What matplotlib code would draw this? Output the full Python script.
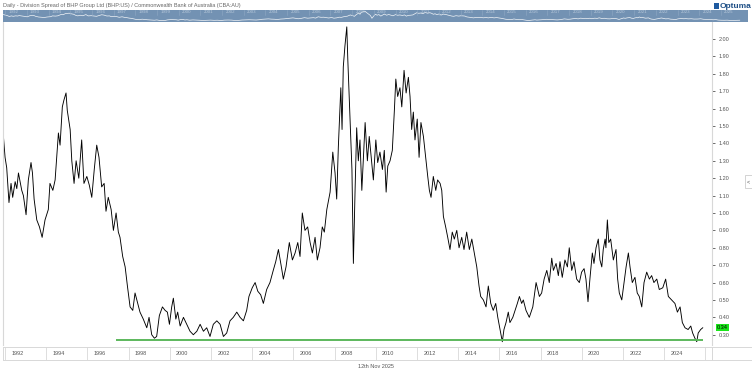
import matplotlib
matplotlib.use("Agg")
import matplotlib.pyplot as plt
from matplotlib.patches import Rectangle

plt.rcParams['font.family'] = ['Liberation Sans', 'DejaVu Sans']

# BHP:US / CBA:AU ratio (decimal year, ratio)
years = [
    1991.92, 1992.00, 1992.08, 1992.19, 1992.29, 1992.37, 1992.49, 1992.57, 1992.65, 1992.81,
    1992.89, 1993.02, 1993.13, 1993.26, 1993.33, 1993.41, 1993.54, 1993.67, 1993.80, 1993.94,
    1994.10, 1994.18, 1994.32, 1994.43, 1994.59, 1994.67, 1994.78, 1994.86, 1994.96, 1995.02,
    1995.16, 1995.24, 1995.35, 1995.45, 1995.58, 1995.72, 1995.83, 1995.97, 1996.09, 1996.21,
    1996.33, 1996.45, 1996.56, 1996.69, 1996.81, 1996.90, 1997.01, 1997.15, 1997.26, 1997.39,
    1997.50, 1997.58, 1997.71, 1997.83, 1997.94, 1998.07, 1998.20, 1998.31, 1998.42, 1998.55,
    1998.71, 1998.88, 1998.99, 1999.12, 1999.25, 1999.36, 1999.49, 1999.64, 1999.77, 1999.88,
    1999.98, 2000.09, 2000.17, 2000.29, 2000.38, 2000.50, 2000.66, 2000.82, 2000.98, 2001.14,
    2001.31, 2001.47, 2001.63, 2001.79, 2001.95, 2002.11, 2002.28, 2002.44, 2002.60, 2002.76,
    2002.92, 2003.08, 2003.25, 2003.41, 2003.57, 2003.73, 2003.84, 2004.00, 2004.14, 2004.27,
    2004.41, 2004.54, 2004.70, 2004.86, 2005.02, 2005.14, 2005.27, 2005.40, 2005.51, 2005.64,
    2005.80, 2005.95, 2006.08, 2006.21, 2006.32, 2006.43, 2006.56, 2006.69, 2006.81, 2006.92,
    2007.05, 2007.16, 2007.29, 2007.40, 2007.50, 2007.62, 2007.78, 2007.91, 2008.02, 2008.10,
    2008.18, 2008.30, 2008.36, 2008.42, 2008.50, 2008.59, 2008.64, 2008.70, 2008.78, 2008.84,
    2008.91, 2008.99, 2009.07, 2009.15, 2009.23, 2009.32, 2009.39, 2009.48, 2009.59, 2009.68,
    2009.80, 2009.88, 2010.00, 2010.09, 2010.20, 2010.32, 2010.41, 2010.50, 2010.58, 2010.69,
    2010.80, 2010.90, 2010.97, 2011.06, 2011.17, 2011.26, 2011.37, 2011.47, 2011.58, 2011.66,
    2011.74, 2011.82, 2011.90, 2012.01, 2012.10, 2012.19, 2012.31, 2012.42, 2012.52, 2012.60,
    2012.68, 2012.79, 2012.91, 2013.00, 2013.12, 2013.20, 2013.28, 2013.39, 2013.49, 2013.60,
    2013.71, 2013.81, 2013.93, 2014.04, 2014.17, 2014.28, 2014.41, 2014.54, 2014.66, 2014.78,
    2014.90, 2015.01, 2015.09, 2015.22, 2015.35, 2015.46, 2015.58, 2015.70, 2015.82, 2015.92,
    2016.03, 2016.14, 2016.22, 2016.32, 2016.43, 2016.51, 2016.65, 2016.76, 2016.87, 2016.97,
    2017.08, 2017.16, 2017.29, 2017.45, 2017.62, 2017.78, 2017.94, 2018.05, 2018.17, 2018.30,
    2018.42, 2018.54, 2018.62, 2018.75, 2018.86, 2018.94, 2019.05, 2019.18, 2019.30, 2019.39,
    2019.51, 2019.62, 2019.75, 2019.88, 2019.99, 2020.11, 2020.20, 2020.30, 2020.40, 2020.51,
    2020.59, 2020.69, 2020.80, 2020.88, 2020.97, 2021.04, 2021.13, 2021.17, 2021.24, 2021.31,
    2021.40, 2021.53, 2021.66, 2021.74, 2021.82, 2021.94, 2022.05, 2022.15, 2022.26, 2022.34,
    2022.45, 2022.58, 2022.69, 2022.79, 2022.91, 2023.02, 2023.15, 2023.28, 2023.39, 2023.50,
    2023.64, 2023.76, 2023.93, 2024.07, 2024.20, 2024.36, 2024.52, 2024.64, 2024.77, 2024.88,
    2025.01, 2025.16, 2025.29, 2025.38, 2025.49, 2025.58, 2025.65, 2025.77, 2025.87,
]
ratio = [
    1.44, 1.32, 1.26, 1.06, 1.17, 1.09, 1.18, 1.14, 1.23, 1.13,
    1.10, 0.99, 1.19, 1.29, 1.23, 1.08, 0.96, 0.92, 0.86, 0.96,
    1.02, 1.17, 1.13, 1.19, 1.46, 1.39, 1.61, 1.65, 1.69, 1.59,
    1.48, 1.30, 1.17, 1.30, 1.20, 1.42, 1.17, 1.21, 1.16, 1.09,
    1.25, 1.39, 1.32, 1.15, 1.17, 1.01, 1.09, 1.02, 0.90, 1.00,
    0.89, 0.86, 0.75, 0.69, 0.58, 0.46, 0.44, 0.54, 0.49, 0.43,
    0.39, 0.34, 0.40, 0.30, 0.28, 0.29, 0.41, 0.46, 0.44, 0.43,
    0.36, 0.46, 0.51, 0.39, 0.43, 0.35, 0.40, 0.36, 0.32, 0.30,
    0.32, 0.36, 0.32, 0.34, 0.29, 0.36, 0.38, 0.36, 0.29, 0.31,
    0.38, 0.40, 0.43, 0.40, 0.38, 0.44, 0.52, 0.57, 0.60, 0.55,
    0.53, 0.48, 0.56, 0.60, 0.67, 0.72, 0.79, 0.70, 0.62, 0.69,
    0.83, 0.73, 0.77, 0.83, 0.75, 1.00, 0.90, 0.92, 0.83, 0.77,
    0.86, 0.73, 0.80, 0.92, 0.89, 1.02, 1.12, 1.35, 1.23, 1.08,
    1.38, 1.72, 1.48, 1.84, 1.96, 2.07, 1.88, 1.69, 1.44, 1.25,
    0.71, 1.12, 1.49, 1.30, 1.42, 1.13, 1.30, 1.52, 1.30, 1.44,
    1.29, 1.19, 1.42, 1.29, 1.35, 1.25, 1.36, 1.12, 1.27, 1.30,
    1.36, 1.59, 1.77, 1.67, 1.72, 1.61, 1.82, 1.69, 1.78, 1.67,
    1.48, 1.58, 1.42, 1.54, 1.32, 1.52, 1.44, 1.32, 1.21, 1.13,
    1.09, 1.21, 1.13, 1.19, 1.17, 1.13, 0.98, 0.92, 0.86, 0.79,
    0.89, 0.85, 0.90, 0.80, 0.86, 0.79, 0.89, 0.79, 0.85, 0.77,
    0.69, 0.58, 0.52, 0.50, 0.46, 0.58, 0.48, 0.44, 0.48, 0.40,
    0.33, 0.26, 0.33, 0.37, 0.43, 0.37, 0.40, 0.44, 0.48, 0.52,
    0.48, 0.50, 0.44, 0.40, 0.46, 0.60, 0.52, 0.54, 0.62, 0.67,
    0.60, 0.74, 0.67, 0.71, 0.64, 0.72, 0.63, 0.73, 0.69, 0.80,
    0.67, 0.72, 0.62, 0.60, 0.66, 0.68, 0.62, 0.49, 0.63, 0.77,
    0.71, 0.80, 0.85, 0.73, 0.69, 0.79, 0.85, 0.80, 0.96, 0.83,
    0.85, 0.73, 0.79, 0.62, 0.54, 0.50, 0.60, 0.69, 0.77, 0.69,
    0.60, 0.63, 0.54, 0.52, 0.46, 0.60, 0.66, 0.62, 0.64, 0.60,
    0.62, 0.56, 0.57, 0.62, 0.52, 0.50, 0.48, 0.43, 0.46, 0.37,
    0.34, 0.33, 0.35, 0.31, 0.28, 0.26, 0.31, 0.33, 0.34,
]

support_level = 0.272
support_start, support_end = 1997.4, 2025.9
last_value = 0.34
y_ticks = [0.30, 0.40, 0.50, 0.60, 0.70, 0.80, 0.90, 1.00, 1.10, 1.20, 1.30,
           1.40, 1.50, 1.60, 1.70, 1.80, 1.90, 2.00]
x_tick_years = list(range(1992, 2028, 2))
nav_years = list(range(1992, 2026))

W, H = 752, 373


def rect(x0, y0, x1, y1):
    return [x0 / W, 1 - y1 / H, (x1 - x0) / W, (y1 - y0) / H]


fig = plt.figure(figsize=(W / 100, H / 100), dpi=100)
fig.patch.set_facecolor('white')

# main price panel
ax = fig.add_axes(rect(3, 22, 712, 345))
ax.plot(years, ratio, color='black', lw=0.65)
ax.hlines(support_level, support_start, support_end, color='#5cb85c', lw=1.4)
ax.set_xlim(1991.9, 2026.32)
ax.set_ylim(0.241, 2.098)
ax.set_xticks([])
ax.yaxis.tick_right()
ax.set_yticks(y_ticks)
ax.set_yticklabels([f'{v:.2f}' for v in y_ticks])
ax.tick_params(axis='y', length=2, width=0.6, pad=2.5, labelsize=4, colors='#555555')
for s in ['top', 'bottom']:
    ax.spines[s].set_visible(False)
for s in ['left', 'right']:
    ax.spines[s].set_color('#d8d8d8')
    ax.spines[s].set_linewidth(0.8)

# last value tag
ax.text(1.0 + 5 / 709, last_value, f'{last_value:.2f}', transform=ax.get_yaxis_transform(),
        fontsize=4, va='center', ha='left', color='black',
        bbox=dict(boxstyle='square,pad=0.15', fc='#19e619', ec='none'))

# date axis band
axd = fig.add_axes(rect(3, 347, 712, 360))
axd.set_xlim(ax.get_xlim())
axd.set_ylim(0, 1)
axd.set_xticks([])
axd.set_yticks([])
for s in axd.spines.values():
    s.set_color('#d8d8d8')
    s.set_linewidth(0.7)
for yr in x_tick_years:
    axd.axvline(yr, color='#d8d8d8', lw=0.6)
    axd.text(yr + 0.3, 0.5, str(yr), fontsize=4, color='#555555', va='center', ha='left',
             clip_on=True)
fig.patches.append(Rectangle((712 / W, 1 - 360 / H), 40 / W, 13 / H, transform=fig.transFigure,
                             fill=False, ec='#d8d8d8', lw=0.7))

fig.text(376 / W, 1 - 366 / H, '12th Nov 2025', fontsize=4, color='#555555', ha='center', va='center')

# navigator strip
axn = fig.add_axes(rect(3, 10, 748, 22))
axn.set_facecolor('#7392b3')
axn.plot(years, ratio, color='white', lw=0.5, alpha=0.9)
axn.set_xlim(1991.9, 2026.25)
axn.set_ylim(0.0, 2.3)
axn.set_xticks([])
axn.set_yticks([])
for s in axn.spines.values():
    s.set_visible(False)
for yr in nav_years:
    axn.axvline(yr, color='#8ea8c4', lw=0.4, ymin=0.55)
    axn.text(yr + 0.15, 0.8, str(yr), fontsize=3.2, color='#b8c9db', va='center', ha='left',
             transform=axn.get_xaxis_transform())

# title and logo
fig.text(3 / W, 1 - 5 / H,
         'Daily - Division Spread of BHP Group Ltd (BHP:US) / Commonwealth Bank of Australia (CBA:AU)',
         fontsize=4, color='#666666', ha='left', va='center')
fig.patches.append(Rectangle((714 / W, 1 - 9 / H), 5 / W, 6 / H, transform=fig.transFigure,
                             fc='#1e5aa0', ec='none'))
fig.text(720 / W, 1 - 6 / H, 'Optuma', fontsize=6, color='#1e4f86', ha='left', va='center',
         fontweight='bold')

# collapse tab at right edge
fig.patches.append(Rectangle((745 / W, 1 - 188 / H), 7 / W, 13 / H, transform=fig.transFigure,
                             fc='white', ec='#cccccc', lw=0.6))
fig.text(748.5 / W, 1 - 181.5 / H, '<', fontsize=4, color='#555555', ha='center', va='center')

fig.savefig('out.png', dpi=100)
